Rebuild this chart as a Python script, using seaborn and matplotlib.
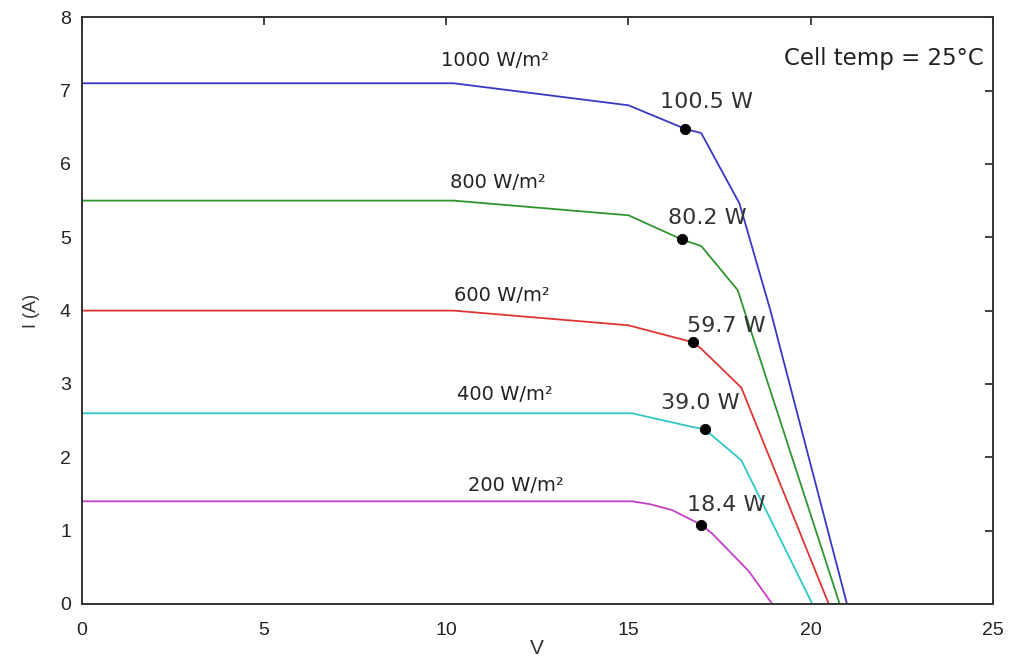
import numpy as np
import pandas as pd
import matplotlib
matplotlib.use("Agg")
import matplotlib.pyplot as plt
import seaborn as sns

# ---- data ----
irradiance = ["1000 W/m²", "800 W/m²", "600 W/m²", "400 W/m²", "200 W/m²"]

v_1000 = [0, 10.2, 15.0, 16.55, 17.0, 18.05, 18.9, 21.0]
i_1000 = [7.1, 7.1, 6.8, 6.48, 6.42, 5.46, 4.0, 0.0]

v_800 = [0, 10.2, 15.0, 16.47, 17.0, 18.0, 20.8]
i_800 = [5.5, 5.5, 5.3, 4.97, 4.88, 4.28, 0.0]

v_600 = [0, 10.2, 15.0, 16.76, 17.0, 18.1, 20.5]
i_600 = [4.0, 4.0, 3.8, 3.57, 3.48, 2.95, 0.0]

v_400 = [0, 15.1, 16.7, 17.1, 18.1, 20.05]
i_400 = [2.6, 2.6, 2.42, 2.38, 1.96, 0.0]

v_200 = [0, 15.1, 15.6, 16.2, 17.0, 17.3, 18.3, 18.95]
i_200 = [1.4, 1.4, 1.36, 1.28, 1.08, 0.96, 0.45, 0.0]

mpp_v = [16.55, 16.47, 16.76, 17.1, 17.0]
mpp_i = [6.48, 4.97, 3.57, 2.38, 1.08]
mpp_label = ["100.5 W", "80.2 W", "59.7 W", "39.0 W", "18.4 W"]

x_ticks = [0, 5, 10, 15, 20, 25]
y_ticks = [0, 1, 2, 3, 4, 5, 6, 7, 8]

# ---- long-form table ----
curves = [(v_1000, i_1000), (v_800, i_800), (v_600, i_600), (v_400, i_400), (v_200, i_200)]
rows = []
for name, (vs, cs) in zip(irradiance, curves):
    for k, (v, c) in enumerate(zip(vs, cs)):
        rows.append({"V": v, "I": c, "G": name, "k": k})
df = pd.DataFrame(rows)
mpp = pd.DataFrame({"V": mpp_v, "I": mpp_i, "G": irradiance, "P": mpp_label})

colors = ["#3838c4", "#2f962f", "#dd3535", "#30c6c6", "#c640c6"]
palette = dict(zip(irradiance, colors))

sns.set_theme(style="white")
plt.rcParams['font.family'] = ['Liberation Sans', 'DejaVu Sans']

fig = plt.figure(figsize=(10.15, 6.64), dpi=100)
ax = fig.add_axes([0.0808, 0.0904, 0.8972, 0.8836])

sns.lineplot(data=df, x="V", y="I", hue="G", palette=palette, sort=False,
             estimator=None, units="G", legend=False, linewidth=1.3, ax=ax)
sns.scatterplot(data=mpp, x="V", y="I", color="black", s=55, edgecolor="black",
                legend=False, ax=ax, zorder=5)

ax.set_xlim(0, 25)
ax.set_ylim(0, 8)
ax.set_xticks(x_ticks)
ax.set_yticks(y_ticks)
ax.tick_params(direction="in", length=6, width=1.2, top=True, right=True,
               labelsize=14, colors="#222222")
ax.tick_params(axis="x", pad=13)
ax.tick_params(axis="y", pad=8)
for lbl in ax.get_xticklabels() + ax.get_yticklabels():
    lbl.set_family(["Liberation Sans", "DejaVu Sans"])
for s in ax.spines.values():
    s.set_visible(True)
    s.set_color("#333333")
    s.set_linewidth(1.4)
ax.set_xlabel("V", fontsize=15, color="#333333", labelpad=0,
              family=["Liberation Sans", "DejaVu Sans"])
ax.set_ylabel("I (A)", fontsize=13, color="#333333", labelpad=14,
              family=["Liberation Sans", "DejaVu Sans"])

# irradiance labels
lab_pos = [(9.85, 7.41), (10.1, 5.75), (10.2, 4.2), (10.3, 2.86), (10.6, 1.61)]
for name, (x, y) in zip(irradiance, lab_pos):
    ax.text(x, y, name, fontsize=14, color="#222222", va="center", ha="left",
            family=["DejaVu Sans"])

# power labels
pow_pos = [(15.86, 6.85), (16.1, 5.26), (16.6, 3.79), (15.9, 2.74), (16.6, 1.35)]
for lab, (x, y) in zip(mpp_label, pow_pos):
    ax.text(x, y, lab, fontsize=16, color="#333333", va="center", ha="left",
            family=["DejaVu Sans"])

ax.text(24.75, 7.44, "Cell temp = 25°C", fontsize=16.5, color="#222222",
        va="center", ha="right", family=["DejaVu Sans"])

fig.savefig("out.png", dpi=100)
